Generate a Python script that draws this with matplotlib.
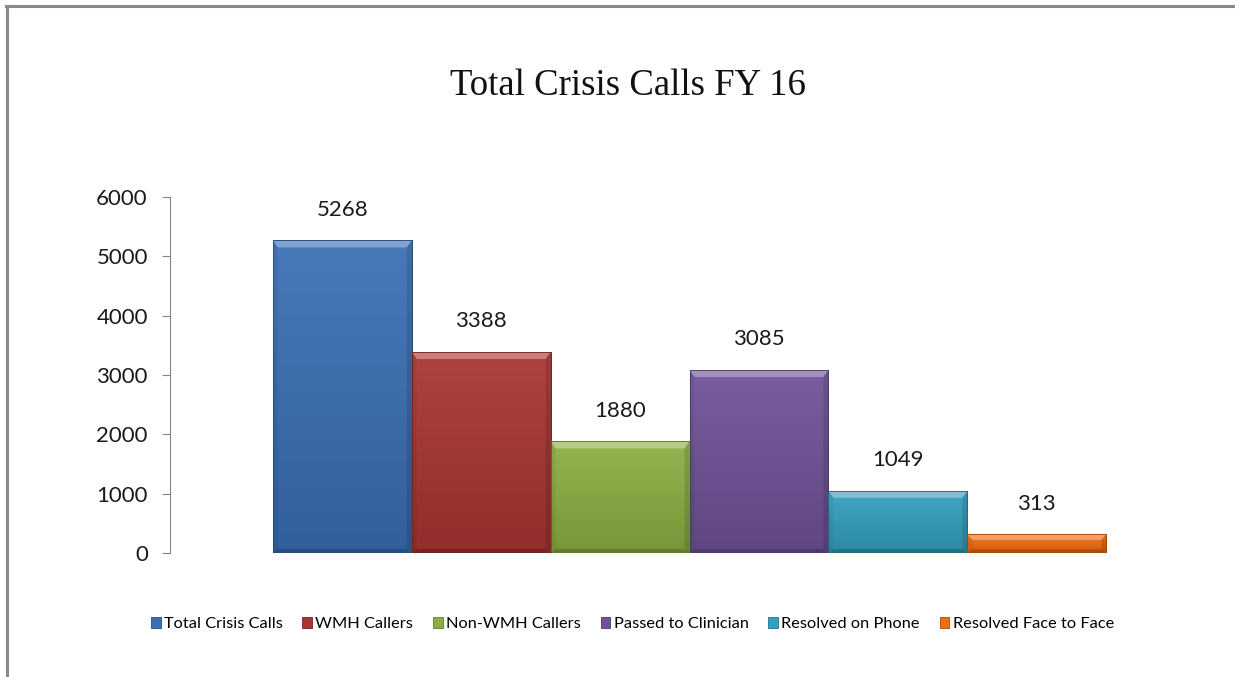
import numpy as np
import matplotlib.pyplot as plt
from matplotlib.patches import Polygon, Rectangle
from matplotlib.lines import Line2D
from matplotlib.colors import to_rgb, LinearSegmentedColormap

# Valeurs du graphique
series = ["Total Crisis Calls", "WMH Callers", "Non-WMH Callers",
          "Passed to Clinician", "Resolved on Phone", "Resolved Face to Face"]
values = [5268, 3388, 1880, 3085, 1049, 313]
colors = ["#3A6FB4", "#A93532", "#8BAF42", "#6F5298", "#34A0BF", "#F36C10"]
yticks = [0, 1000, 2000, 3000, 4000, 5000, 6000]


def blend(c, other, t):
    c = to_rgb(c)
    o = to_rgb(other)
    return tuple(a + (b - a) * t for a, b in zip(c, o))


fig = plt.figure(figsize=(12.35, 6.77), dpi=100)
ax = fig.add_axes([0.1377, 0.1832, 0.8413, 0.5258])

# Cadre gris en haut et à gauche
fig.add_artist(Line2D([0.005, 1.0], [0.9911, 0.9911], transform=fig.transFigure,
                      color="#8a8a8a", lw=2.2))
fig.add_artist(Line2D([0.0053, 0.0053], [0.0, 0.9911], transform=fig.transFigure,
                      color="#8a8a8a", lw=2.2))

xs = list(range(len(values)))
bars = ax.bar(xs, values, width=1.0, color=colors,
              edgecolor=[blend(c, "black", 0.35) for c in colors], linewidth=0.6, zorder=2)

# Dégradé vertical dans chaque barre
grad = np.linspace(0, 1, 128).reshape(-1, 1)
for bar, c in zip(bars, colors):
    x0, w, h = bar.get_x(), bar.get_width(), bar.get_height()
    cmap = LinearSegmentedColormap.from_list("g", [blend(c, "white", 0.07), blend(c, "black", 0.14)])
    im = ax.imshow(grad, cmap=cmap, extent=(x0, x0 + w, 0, h), aspect="auto",
                   origin="upper", interpolation="bilinear", zorder=2.2)
    im.set_clip_path(bar)

ax.set_xlim(-1.24, 6.24)
ax.set_ylim(0, 6000)

# Effet biseauté (tailles en pixels converties en données)
px_x = ax.transData.transform((1, 0))[0] - ax.transData.transform((0, 0))[0]
px_y = (ax.transData.transform((0, 1000))[1] - ax.transData.transform((0, 0))[1]) / 1000
bx_side = 5 / px_x
by_top = 7 / px_y
by_bot = 4 / px_y
for bar, c in zip(bars, colors):
    x0, w, h = bar.get_x(), bar.get_width(), bar.get_height()
    x1 = x0 + w
    bt = min(by_top, h * 0.3)
    bb = min(by_bot, h * 0.2)
    top = Polygon([(x0, h), (x1, h), (x1 - bx_side, h - bt), (x0 + bx_side, h - bt)],
                  closed=True, facecolor="white", alpha=0.32, edgecolor="none", zorder=3)
    left = Polygon([(x0, 0), (x0, h), (x0 + bx_side, h - bt), (x0 + bx_side, bb)],
                   closed=True, facecolor="black", alpha=0.06, edgecolor="none", zorder=3)
    right = Polygon([(x1, 0), (x1, h), (x1 - bx_side, h - bt), (x1 - bx_side, bb)],
                    closed=True, facecolor="black", alpha=0.12, edgecolor="none", zorder=3)
    bottom = Polygon([(x0, 0), (x1, 0), (x1 - bx_side, bb), (x0 + bx_side, bb)],
                     closed=True, facecolor="black", alpha=0.18, edgecolor="none", zorder=3)
    for p in (top, left, right, bottom):
        ax.add_patch(p)
    ax.add_patch(Rectangle((x0, 0), w, h, facecolor="none",
                           edgecolor=blend(c, "black", 0.35), lw=0.6, zorder=3.5))
    ax.annotate(f"{int(h)}", (x0 + w / 2, h), xytext=(0, 22), textcoords="offset points",
                ha="center", va="center", fontsize=16, family="Lato", color="#1a1a1a")

# Axes
for side in ("top", "right", "bottom"):
    ax.spines[side].set_visible(False)
ax.spines["left"].set_color("#868686")
ax.set_xticks([])
ax.set_yticks(yticks)
ax.set_yticklabels([str(v) for v in yticks], family="Lato", fontsize=16, color="#1a1a1a")
ax.tick_params(axis="y", length=6, color="#868686", pad=10)

# Titre
fig.text(0.5085, 1 - 95 / 677, "Total Crisis Calls FY 16", family="Liberation Serif",
         fontsize=26.5, color="#111111", ha="center", va="baseline")

# Légende en bas
handles = [Rectangle((0, 0), 1, 1, facecolor=c, edgecolor=blend(c, "black", 0.3), lw=0.6)
           for c in colors]
fig.legend(handles, series, loc="center", bbox_to_anchor=(0.512, 0.078), ncol=6,
           frameon=False, prop={"family": "Lato", "size": 11.8}, handlelength=0.6,
           handleheight=0.6, handletextpad=0.2, columnspacing=1.2)

fig.savefig("out.png", dpi=100)
